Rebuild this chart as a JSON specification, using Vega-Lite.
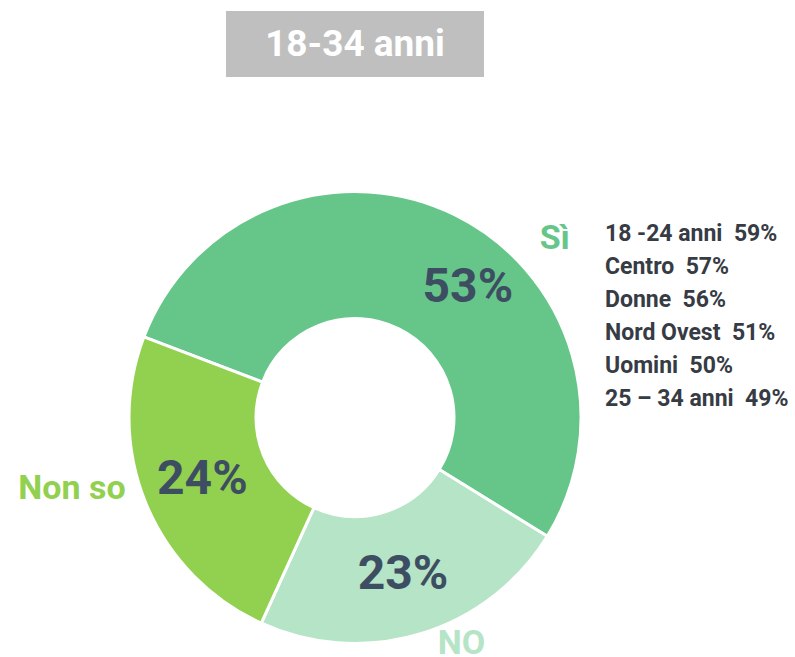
{
  "$schema": "https://vega.github.io/schema/vega-lite/v6.json",
  "background": "white",
  "autosize": {"type": "pad"},
  "padding": {"left": 18, "top": 11, "right": 0, "bottom": 0},
  "spacing": 115.5,
  "center": true,
  "bounds": "flush",
  "config": {"view": {"stroke": null}},
  "vconcat": [
    {
      "width": 258,
      "height": 66,
      "view": {"fill": "#BFBFBF", "stroke": null},
      "data": {"values": [{"titolo": "18-34 anni"}]},
      "mark": {"type": "text", "font": "Roboto", "fontWeight": "bold", "fontSize": 37, "color": "#FFFFFF", "align": "center", "baseline": "middle", "dy": 1},
      "encoding": {"text": {"field": "titolo", "type": "nominal"}}
    },
    {
      "width": 450,
      "height": 450,
      "view": {"stroke": null},
      "layer": [
        {
          "data": {"values": [
            {"risposta": "Sì", "quota": 0.53},
            {"risposta": "NO", "quota": 0.23},
            {"risposta": "Non so", "quota": 0.24}
          ]},
          "encoding": {
            "theta": {"field": "quota", "type": "quantitative", "stack": true, "scale": {"domain": [0, 1], "range": [2.1241, 8.4073]}},
            "order": {"field": "risposta", "type": "ordinal", "sort": "ascending"},
            "detail": {"field": "risposta", "type": "nominal"}
          },
          "layer": [
            {
              "mark": {"type": "arc", "innerRadius": 99, "outerRadius": 226, "stroke": "#FFFFFF", "strokeWidth": 3},
              "encoding": {
                "color": {"field": "risposta", "type": "nominal", "legend": null, "scale": {"domain": ["Sì", "NO", "Non so"], "range": ["#66C68A", "#B5E4C6", "#92D050"]}}
              }
            },
            {
              "mark": {"type": "text", "radius": 172, "thetaOffset": 0.2566, "font": "Roboto", "fontWeight": "bold", "fontSize": 48, "color": "#3E4E62", "align": "center", "baseline": "middle"},
              "encoding": {
                "text": {"field": "quota", "type": "quantitative", "format": ".0%"},
                "opacity": {"condition": {"test": "datum.risposta === 'Sì'", "value": 1}, "value": 0}
              }
            },
            {
              "mark": {"type": "text", "radius": 165, "font": "Roboto", "fontWeight": "bold", "fontSize": 48, "color": "#3E4E62", "align": "center", "baseline": "middle"},
              "encoding": {
                "text": {"field": "quota", "type": "quantitative", "format": ".0%"},
                "opacity": {"condition": {"test": "datum.risposta !== 'Sì'", "value": 1}, "value": 0}
              }
            },
            {
              "mark": {"type": "text", "radius": 268, "thetaOffset": 0.382, "font": "Roboto", "fontWeight": "bold", "fontSize": 34, "align": "center", "baseline": "middle"},
              "encoding": {
                "text": {"field": "risposta", "type": "nominal"},
                "color": {"field": "risposta", "type": "nominal", "legend": null},
                "opacity": {"condition": {"test": "datum.risposta === 'Sì'", "value": 1}, "value": 0}
              }
            },
            {
              "mark": {"type": "text", "radius": 250, "thetaOffset": -0.145, "font": "Roboto", "fontWeight": "bold", "fontSize": 34, "align": "center", "baseline": "middle"},
              "encoding": {
                "text": {"field": "risposta", "type": "nominal"},
                "color": {"field": "risposta", "type": "nominal", "legend": null},
                "opacity": {"condition": {"test": "datum.risposta === 'NO'", "value": 1}, "value": 0}
              }
            },
            {
              "mark": {"type": "text", "radius": 292, "thetaOffset": 0.141, "font": "Roboto", "fontWeight": "bold", "fontSize": 34, "align": "center", "baseline": "middle"},
              "encoding": {
                "text": {"field": "risposta", "type": "nominal"},
                "color": {"field": "risposta", "type": "nominal", "legend": null},
                "opacity": {"condition": {"test": "datum.risposta === 'Non so'", "value": 1}, "value": 0}
              }
            }
          ]
        },
        {
          "data": {"values": [
            {"gruppo": "18 -24 anni\u00a0 59%"},
            {"gruppo": "Centro\u00a0 57%"},
            {"gruppo": "Donne\u00a0 56%"},
            {"gruppo": "Nord Ovest\u00a0 51%"},
            {"gruppo": "Uomini\u00a0 50%"},
            {"gruppo": "25 – 34 anni\u00a0 49%"}
          ]},
          "mark": {"type": "point", "opacity": 0, "size": 0},
          "encoding": {
            "shape": {
              "field": "gruppo",
              "type": "nominal",
              "sort": null,
              "legend": {
                "orient": "none",
                "legendX": 452,
                "legendY": 211,
                "title": null,
                "padding": 0,
                "symbolSize": 0,
                "symbolOpacity": 0,
                "symbolStrokeWidth": 0,
                "labelOffset": 0,
                "labelFont": "Roboto",
                "labelFontWeight": "bold",
                "labelFontSize": 23,
                "labelColor": "#363B44",
                "labelLimit": 400,
                "rowPadding": 9
              }
            }
          }
        }
      ]
    }
  ]
}
